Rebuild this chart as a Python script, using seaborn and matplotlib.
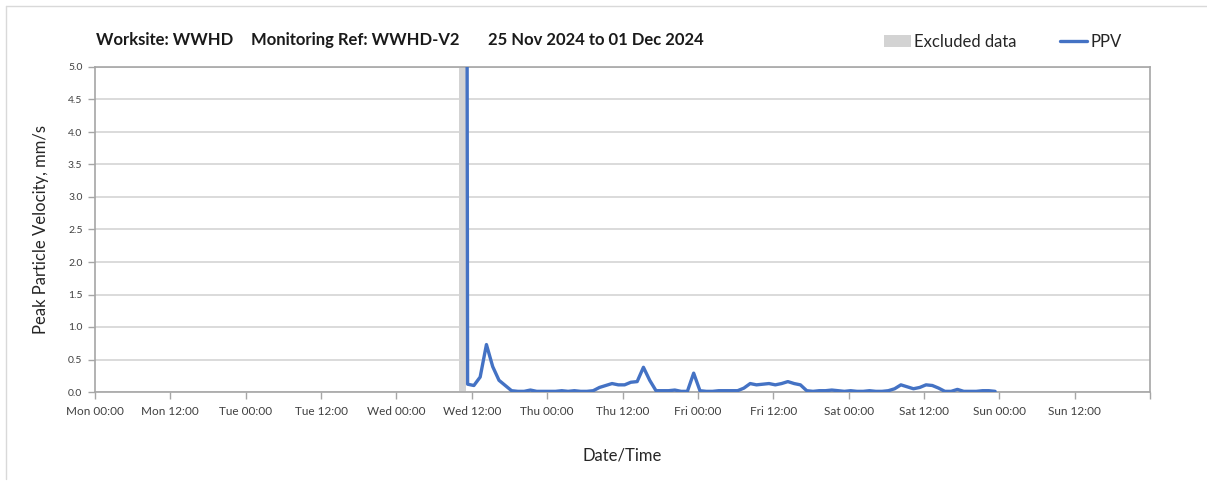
import numpy as np
import pandas as pd
import matplotlib
matplotlib.use("Agg")
import matplotlib.pyplot as plt
import matplotlib.dates as mdates
from matplotlib.lines import Line2D
from matplotlib.patches import Patch
import seaborn as sns

# ---------------- data ----------------
title_parts = ["Worksite: WWHD", "Monitoring Ref: WWHD-V2", "25 Nov 2024 to 01 Dec 2024"]
x_start = "2024-11-25 00:00"
x_end = "2024-12-02 00:00"
excluded_start = "2024-11-27 10:00"
excluded_end = "2024-11-27 11:00"

spike_time = "2024-11-27 11:12"
spike_value = 9.0

hourly_start = "2024-11-27 11:20"
ppv_hourly = [
    0.12, 0.10, 0.23, 0.73, 0.39, 0.18, 0.10, 0.02, 0.01, 0.01, 0.03, 0.01, 0.01,
    0.01, 0.01, 0.02, 0.01, 0.02, 0.01, 0.01, 0.02, 0.07, 0.10, 0.13, 0.11, 0.11, 0.15, 0.16,
    0.38, 0.18, 0.02, 0.02, 0.02, 0.03, 0.01, 0.01, 0.29, 0.02, 0.01, 0.01, 0.02, 0.02,
    0.02, 0.02, 0.06, 0.13, 0.11, 0.12, 0.13, 0.11, 0.13, 0.16, 0.13, 0.11, 0.02, 0.01,
    0.02, 0.02, 0.03, 0.02, 0.01, 0.02, 0.01, 0.01, 0.02, 0.01, 0.01, 0.02, 0.05, 0.11,
    0.08, 0.05, 0.07, 0.11, 0.10, 0.06, 0.01, 0.01, 0.04, 0.01, 0.01, 0.01, 0.02, 0.02, 0.01,
]
y_ticks = [0.0, 0.5, 1.0, 1.5, 2.0, 2.5, 3.0, 3.5, 4.0, 4.5, 5.0]

times = [pd.Timestamp(spike_time)] + list(pd.date_range(hourly_start, periods=len(ppv_hourly), freq="h"))
df = pd.DataFrame({"time": times, "PPV": [spike_value] + ppv_hourly})

# ---------------- style ----------------
sns.set_theme(style="white")
plt.rcParams["font.family"] = ["Lato", "DejaVu Sans"]

W, H = 1207, 486
fig = plt.figure(figsize=(W / 100, H / 100), dpi=100)
fig.patch.set_facecolor("white")

left, right, top, bottom = 95, 1150, 67, 392
ax = fig.add_axes([left / W, 1 - bottom / H, (right - left) / W, (bottom - top) / H])

grid_c = "#d4d4d4"
spine_c = "#a6a6a6"
blue = "#4472C4"

ax.axvspan(pd.Timestamp(excluded_start), pd.Timestamp(excluded_end), color="#d3d3d3", lw=0, zorder=1)
sns.lineplot(data=df, x="time", y="PPV", ax=ax, color=blue, lw=2.4, zorder=3, legend=False)

ax.set_xlim(pd.Timestamp(x_start), pd.Timestamp(x_end))
ax.set_ylim(0, 5)
ax.set_yticks(y_ticks)
ax.yaxis.set_major_formatter(matplotlib.ticker.FormatStrFormatter("%.1f"))

end_num = mdates.date2num(pd.Timestamp(x_end))


def xfmt(v, pos=None):
    if abs(v - end_num) < 1e-6:
        return ""
    return mdates.num2date(v).strftime("%a %H:%M")


ax.xaxis.set_major_locator(mdates.HourLocator(byhour=[0, 12]))
ax.xaxis.set_major_formatter(matplotlib.ticker.FuncFormatter(xfmt))
ax.xaxis.set_minor_locator(mdates.DayLocator())

ax.grid(False)
ax.grid(axis="y", which="major", color=grid_c, lw=1.2)
ax.grid(axis="x", which="minor", color=grid_c, lw=1.2)
ax.set_axisbelow(True)

for s in ax.spines.values():
    s.set_visible(True)
    s.set_color(spine_c)
    s.set_linewidth(1.2)

ax.tick_params(axis="x", which="major", direction="out", length=5, width=1, color=spine_c,
               labelsize=8.5, labelcolor="#404040", pad=5, bottom=True)
ax.tick_params(axis="x", which="minor", length=0)
ax.tick_params(axis="y", which="major", direction="out", length=5, width=1, color=spine_c,
               labelsize=7.5, labelcolor="#404040", pad=4, left=True)

ax.set_xlabel("Date/Time", fontsize=12, color="#262626", labelpad=22)
ax.set_ylabel("Peak Particle Velocity, mm/s", fontsize=12, color="#262626", labelpad=14)

# title parts
for xp, txt in zip([96, 251, 488], title_parts):
    fig.text(xp / W, 1 - 40 / H, txt, fontsize=12, fontweight="bold", color="#1a1a1a", va="center", ha="left")

# legend
handles = [Patch(facecolor="#d3d3d3", edgecolor="none", label="Excluded data"),
           Line2D([0], [0], color=blue, lw=2.4, label="PPV")]
fig.legend(handles=handles, loc="center", bbox_to_anchor=(1003 / W, 1 - 42 / H), ncol=2, frameon=False,
           fontsize=12, handlelength=1.6, handleheight=0.7, handletextpad=0.2, columnspacing=2.6,
           labelcolor="#262626")

# outer chart border (top and left)
fig.add_artist(Line2D([6 / W, 1], [1 - 6 / H, 1 - 6 / H], color="#d9d9d9", lw=1, transform=fig.transFigure))
fig.add_artist(Line2D([6 / W, 6 / W], [1 - 6 / H, 1 - 479 / H], color="#d9d9d9", lw=1, transform=fig.transFigure))

fig.savefig("out.png", dpi=100)
